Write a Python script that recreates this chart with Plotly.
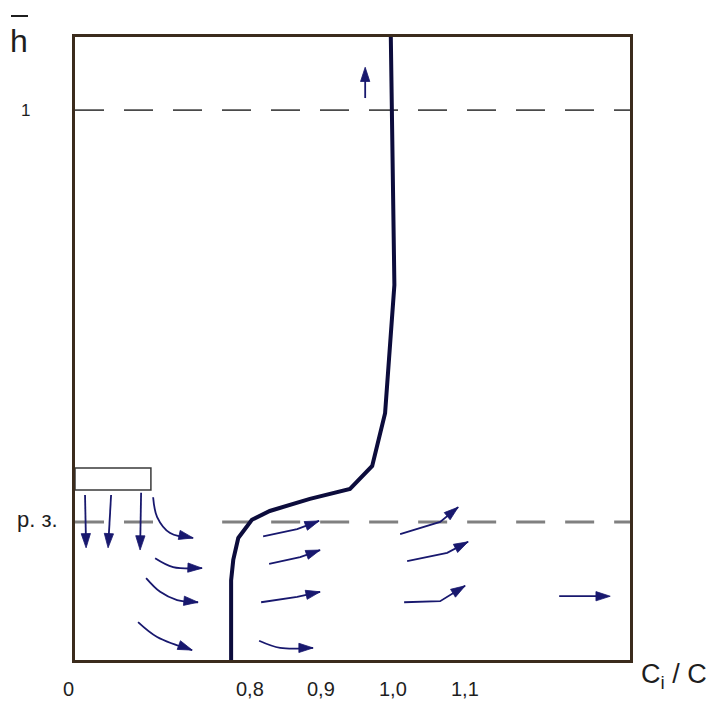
import plotly.graph_objects as go

# Relative concentration profile Ci/C over relative room height h̄
ci_ratio = [0.774, 0.774, 0.777, 0.784, 0.803, 0.828, 0.884, 0.940, 0.971, 0.989, 1.002, 0.997]
h_rel = [0.0, 0.145, 0.182, 0.222, 0.255, 0.271, 0.293, 0.311, 0.353, 0.449, 0.682, 1.133]

x_ticks = [0.8, 0.9, 1.0, 1.1]
x_tick_text = ["0,8", "0,9", "1,0", "1,1"]

x_range = [0.556, 1.331]
h_range = [0.0, 1.133]

h_top_level = 1.0      # h̄ = 1
h_work_zone = 0.251    # upper boundary of the working zone
# the working-zone line is interrupted next to the diffuser jets
work_zone_spans = [(0.556, 0.675), (0.7615, 1.331)]

# Supply diffuser outline (x extent, h extent)
diffuser_x = [0.556, 0.662]
diffuser_h = [0.309, 0.349]

# Air streamlines; the arrowhead sits on the last point of each one
stream_x = [
    [0.570, 0.5715],
    [0.6064, 0.6022],
    [0.6483, 0.6469],
    [0.6651, 0.6707, 0.6888, 0.7210],
    [0.6679, 0.6930, 0.7335],
    [0.6553, 0.6749, 0.6986, 0.7279],
    [0.6441, 0.6707, 0.7196],
    [0.8187, 0.8662, 0.8969],
    [0.8271, 0.8704, 0.8983],
    [0.8159, 0.8662, 0.8983],
    [0.8131, 0.8425, 0.8885],
    [1.0100, 1.0659, 1.0911],
    [1.0198, 1.0757, 1.1050],
    [1.0156, 1.0659, 1.1008],
    [1.2321, 1.3034],
    [0.9612, 0.9612],
]
stream_h = [
    [0.300, 0.204],
    [0.300, 0.204],
    [0.304, 0.200],
    [0.296, 0.260, 0.231, 0.222],
    [0.185, 0.169, 0.167],
    [0.149, 0.124, 0.109, 0.105],
    [0.069, 0.042, 0.018],
    [0.225, 0.238, 0.253],
    [0.175, 0.187, 0.200],
    [0.105, 0.115, 0.124],
    [0.035, 0.022, 0.022],
    [0.229, 0.251, 0.278],
    [0.180, 0.195, 0.215],
    [0.105, 0.107, 0.135],
    [0.116, 0.116],
    [1.022, 1.078],
]
stream_curved = [False, False, False, True, True, True, True,
                 False, False, False, True, False, False, False, False, False]

FONT = "Liberation Sans, Arial, sans-serif"
TEXT = "#1e1e1e"
FRAME = "#3b2b1c"
FLOW = "#18186e"

fig = go.Figure()

# streamlines with arrowheads
for xs, hs, curved in zip(stream_x, stream_h, stream_curved):
    n = len(xs)
    fig.add_trace(go.Scatter(
        x=xs, y=hs, mode="lines+markers",
        line=dict(color=FLOW, width=1.8, shape="spline" if curved else "linear"),
        marker=dict(symbol="arrow", angleref="previous",
                    size=[0] * (n - 1) + [15], color=FLOW, opacity=1,
                    line=dict(width=0.8, color=FLOW)),
        hoverinfo="skip", showlegend=False,
    ))

# concentration profile
fig.add_trace(go.Scatter(
    x=ci_ratio, y=h_rel, mode="lines",
    line=dict(color="#0c0c3c", width=4),
    hoverinfo="skip", showlegend=False,
))

# horizontal reference levels
fig.add_shape(type="line", xref="x", yref="y",
              x0=x_range[0], x1=x_range[1], y0=h_top_level, y1=h_top_level,
              line=dict(color="#4a4a4a", width=1.8, dash="29px,20px"), layer="below")
for x0, x1 in work_zone_spans:
    fig.add_shape(type="line", xref="x", yref="y",
                  x0=x0, x1=x1, y0=h_work_zone, y1=h_work_zone,
                  line=dict(color="#808080", width=3, dash="29px,20px"), layer="below")

# supply diffuser
fig.add_shape(type="rect", xref="x", yref="y",
              x0=diffuser_x[0], x1=diffuser_x[1], y0=diffuser_h[0], y1=diffuser_h[1],
              line=dict(color="#3a3a3a", width=1.5), fillcolor="white")


def label(text, x, y, size, xref="paper", yref="paper"):
    fig.add_annotation(text=text, xref=xref, yref=yref, x=x, y=y,
                       xanchor="center", yanchor="middle", showarrow=False,
                       font=dict(family=FONT, size=size, color=TEXT))


# vertical axis caption h̄ with its bar
label("h", -0.1009, 0.9936, 32)
fig.add_shape(type="line", xref="paper", yref="paper",
              x0=-0.1153, x1=-0.0847, y0=1.0337, y1=1.0337,
              line=dict(color=TEXT, width=2))

# level labels
label("1", -0.089, h_top_level, 17, yref="y")
label("р. з.", -0.0676, h_work_zone + 0.004, 22, yref="y")

# horizontal axis labels
label("0", -0.0126, -0.046, 20)
for val, txt in zip(x_ticks, x_tick_text):
    label(txt, val, -0.046, 20, xref="x")
label("C<sub>i</sub> / C", 1.079, -0.026, 27)

fig.update_xaxes(range=x_range, tickvals=x_ticks, showticklabels=False,
                 ticks="", automargin=False,
                 showline=True, mirror=True, linecolor=FRAME, linewidth=3,
                 showgrid=False, zeroline=False)
fig.update_yaxes(range=h_range, showticklabels=False, ticks="", automargin=False,
                 showline=True, mirror=True, linecolor=FRAME, linewidth=3,
                 showgrid=False, zeroline=False)

fig.update_layout(width=713, height=701,
                  margin=dict(l=75, r=83, t=37, b=41),
                  plot_bgcolor="white", paper_bgcolor="white")

fig.write_html("out.html")
